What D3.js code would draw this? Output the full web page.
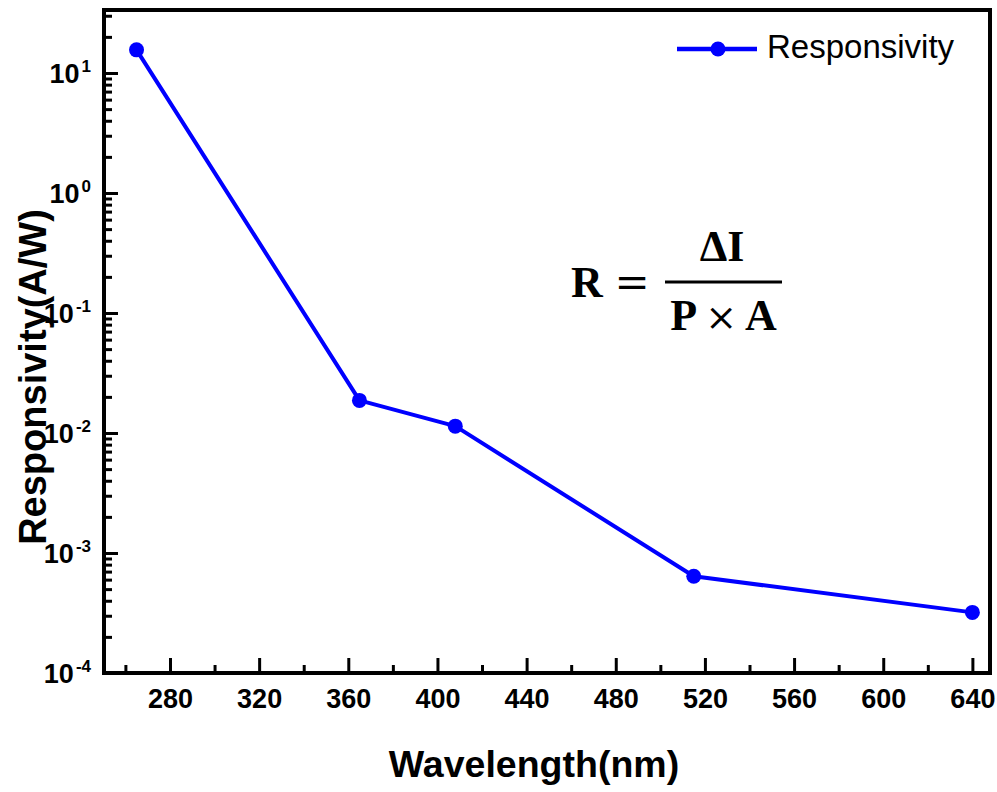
<!DOCTYPE html>
<html>
<head>
<meta charset="utf-8">
<script src="https://cdn.jsdelivr.net/npm/d3@7"></script>
<style>
  html, body { margin: 0; padding: 0; background: #fff; }
  svg { display: block; }
</style>
</head>
<body>
<svg id="chart" width="997" height="792"></svg>
<script>
// Measured responsivity versus illumination wavelength
const wavelengths = [265, 365, 408, 515, 640];
const responsivity = [15.6, 0.0187, 0.0114, 6.4e-4, 3.2e-4];

// Axis ticks
const xMajorTicks = [280, 320, 360, 400, 440, 480, 520, 560, 600, 640];
const xMinorTicks = [260, 300, 340, 380, 420, 460, 500, 540, 580, 620];
const yMajorExponents = [-4, -3, -2, -1, 0, 1];
const seriesName = "Responsivity";

const svg = d3.select("#chart");
const frame = { left: 104, right: 990, top: 10, bottom: 673 };

const x = d3.scaleLinear().domain([250.4, 647.9]).range([frame.left, frame.right]);
const y = d3.scaleLog().domain([1e-4, Math.pow(10, 1.525)]).range([frame.bottom, frame.top]);

const yMajor = yMajorExponents.map(e => Math.pow(10, e));
const yMinor = [];
yMajorExponents.forEach(e => {
  for (let m = 2; m <= 9; m++) {
    const v = m * Math.pow(10, e);
    if (v <= y.domain()[1]) yMinor.push(v);
  }
});

const labelFont = "'Liberation Sans', Arial, sans-serif";

// Minor ticks (drawn first, beneath major ticks)
svg.append("g")
  .attr("transform", `translate(0,${frame.bottom})`)
  .call(d3.axisBottom(x).tickValues(xMinorTicks).tickSize(-8).tickSizeOuter(0).tickFormat(() => ""))
  .call(g => g.select(".domain").remove())
  .call(g => g.selectAll(".tick line").attr("stroke", "#000").attr("stroke-width", 3));

svg.append("g")
  .attr("transform", `translate(${frame.left},0)`)
  .call(d3.axisLeft(y).tickValues(yMinor).tickSize(-8).tickSizeOuter(0).tickFormat(() => ""))
  .call(g => g.select(".domain").remove())
  .call(g => g.selectAll(".tick line").attr("stroke", "#000").attr("stroke-width", 3));

// Major x ticks with labels
svg.append("g")
  .attr("transform", `translate(0,${frame.bottom})`)
  .call(d3.axisBottom(x).tickValues(xMajorTicks).tickSize(-15).tickSizeOuter(0).tickFormat(d3.format("d")))
  .call(g => g.select(".domain").remove())
  .call(g => g.selectAll(".tick line").attr("stroke", "#000").attr("stroke-width", 3))
  .call(g => g.selectAll(".tick text")
    .attr("y", 35).attr("dy", 0)
    .attr("fill", "#000")
    .style("font-family", labelFont)
    .style("font-size", "27px")
    .style("font-weight", "bold"));

// Major y ticks with power-of-ten labels
svg.append("g")
  .attr("transform", `translate(${frame.left},0)`)
  .call(d3.axisLeft(y).tickValues(yMajor).tickSize(-14).tickSizeOuter(0).tickFormat(() => ""))
  .call(g => g.select(".domain").remove())
  .call(g => g.selectAll(".tick line").attr("stroke", "#000").attr("stroke-width", 3))
  .call(g => g.selectAll(".tick text").each(function(d) {
    const t = d3.select(this)
      .attr("x", -13).attr("y", 9).attr("dy", 0)
      .attr("text-anchor", "end")
      .attr("fill", "#000")
      .style("font-family", labelFont)
      .style("font-weight", "bold");
    t.text(null);
    t.append("tspan").style("font-size", "27px").text("10");
    t.append("tspan").style("font-size", "17px").attr("dx", 2).attr("dy", -11)
      .text(String(Math.round(Math.log10(d))));
  }));

// Plot frame
svg.append("rect")
  .attr("x", frame.left).attr("y", frame.top)
  .attr("width", frame.right - frame.left).attr("height", frame.bottom - frame.top)
  .attr("fill", "none").attr("stroke", "#000").attr("stroke-width", 4);

// Data series
const points = wavelengths.map((w, i) => ({ w, r: responsivity[i] }));
const line = d3.line().x(d => x(d.w)).y(d => y(d.r));

svg.append("path")
  .datum(points)
  .attr("d", line)
  .attr("fill", "none")
  .attr("stroke", "#0000ff")
  .attr("stroke-width", 4)
  .attr("stroke-linejoin", "round");

svg.append("g").selectAll("circle")
  .data(points)
  .join("circle")
  .attr("cx", d => x(d.w))
  .attr("cy", d => y(d.r))
  .attr("r", 7.5)
  .attr("fill", "#0000ff");

// Legend
const legend = svg.append("g").attr("transform", "translate(677,49)");
legend.append("line").attr("x1", 0).attr("x2", 80).attr("y1", 0).attr("y2", 0)
  .attr("stroke", "#0000ff").attr("stroke-width", 4.5);
legend.append("circle").attr("cx", 41).attr("cy", 0).attr("r", 7.5).attr("fill", "#0000ff");
legend.append("text").attr("x", 90).attr("y", 9)
  .style("font-family", labelFont).style("font-size", "33px")
  .attr("fill", "#000").text(seriesName);

// Axis titles
svg.append("text")
  .attr("x", 534).attr("y", 777)
  .attr("text-anchor", "middle")
  .style("font-family", labelFont).style("font-size", "37.5px").style("font-weight", "bold")
  .attr("fill", "#000")
  .text("Wavelength(nm)");

svg.append("text")
  .attr("transform", "translate(46,377) rotate(-90)")
  .attr("text-anchor", "middle")
  .style("font-family", labelFont).style("font-size", "38px").style("font-weight", "bold")
  .attr("fill", "#000")
  .text("Responsivity(A/W)");

// Formula R = ΔI / (P × A)
const mathFont = "'Liberation Serif', 'Times New Roman', serif";
const symbolFont = "'DejaVu Serif', serif";
const formula = svg.append("g")
  .style("font-family", mathFont).style("font-weight", "bold").style("font-size", "44px")
  .attr("fill", "#000");
formula.append("text").attr("x", 571).attr("y", 297).text("R");
formula.append("text").attr("x", 632).attr("y", 297).attr("text-anchor", "middle")
  .style("font-family", symbolFont).style("font-weight", "normal").style("font-size", "42px")
  .text("=");
formula.append("line").attr("x1", 665).attr("x2", 782).attr("y1", 282).attr("y2", 282)
  .attr("stroke", "#000").attr("stroke-width", 3);
formula.append("text").attr("x", 722).attr("y", 261).attr("text-anchor", "middle").text("ΔI");
const denom = formula.append("text").attr("x", 723.5).attr("y", 330).attr("text-anchor", "middle");
denom.append("tspan").text("P");
denom.append("tspan").attr("dx", 8)
  .style("font-family", symbolFont).style("font-weight", "normal").style("font-size", "38px")
  .text("×");
denom.append("tspan").attr("dx", 8).text("A");
</script>
</body>
</html>
